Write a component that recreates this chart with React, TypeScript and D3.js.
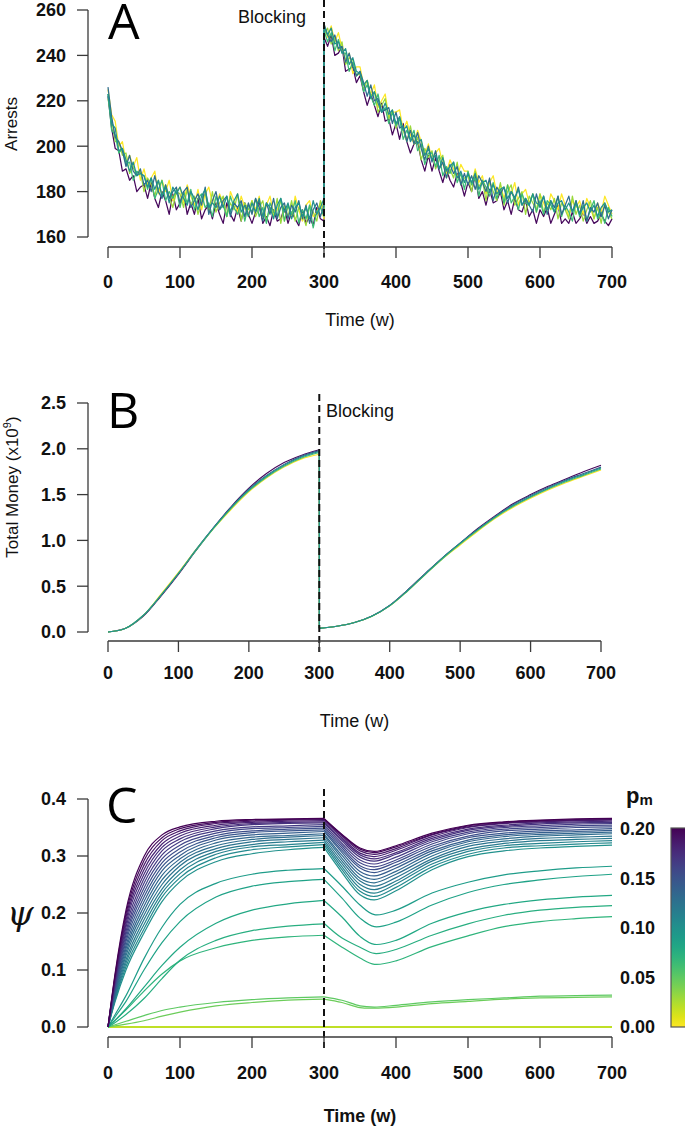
import React from "react";
import * as d3 from "d3";

const W = 685;
const H = 1127;

// ---------- Panel A : arrests (sampled every 5 w, blocking at 300) ----------
const weeksA = [...d3.range(0, 301, 5), ...d3.range(300, 701, 5)];

const arrestsPurple = [
  222,208,199,198,189,190,185,187,180,182,
  183,177,184,177,173,180,176,170,179,172,
  175,180,170,175,170,177,168,172,174,168,
  175,170,166,175,170,167,173,167,175,170,
  166,171,176,166,169,165,172,167,168,173,
  166,171,168,165,172,166,169,165,173,168,
  167,
  248,244,249,240,241,244,233,234,235,228,
  231,224,218,223,218,213,219,211,212,205,
  210,203,210,202,197,201,202,194,189,196,
  189,195,189,184,190,185,182,188,184,178,
  184,180,187,177,180,174,181,175,176,180,
  172,176,170,177,172,171,176,169,172,166,
  172,169,173,166,170,174,166,168,166,171,
  166,168,171,166,169,166,167,170,167,165,
  168,
];
const arrestsYellow = [
  225,214,211,200,202,193,196,191,195,185,
  190,183,186,189,179,185,180,185,176,180,
  182,175,183,178,174,181,172,179,182,175,
  173,179,175,169,180,176,171,178,173,169,
  176,172,178,168,174,178,170,172,176,167,
  174,169,178,172,167,174,176,169,171,175,
  168,
  254,248,253,246,250,243,238,241,232,235,
  235,227,229,223,227,217,220,223,213,215,
  215,216,207,211,205,201,207,202,196,201,
  194,197,199,192,188,194,190,186,192,189,
  189,183,190,184,187,179,184,187,179,183,
  177,183,179,184,174,179,181,175,179,171,
  179,175,171,179,176,172,179,174,169,176,
  173,176,170,177,173,168,175,171,178,174,
  170,
];
const arrestsLightGreen = [
  221,212,202,202,196,197,188,191,187,189,
  180,186,183,178,185,178,183,178,173,180,
  179,173,181,174,178,170,176,179,171,180,
  171,175,178,169,175,172,179,167,175,172,
  176,169,173,176,167,173,169,177,166,174,
  169,176,167,173,170,165,174,171,167,176,
  172,
  249,252,245,248,242,246,236,239,238,231,
  232,225,229,222,224,215,218,221,212,216,
  208,213,207,202,209,201,204,194,199,195,
  198,190,194,196,186,190,186,193,183,186,
  187,180,189,182,185,176,185,180,176,184,
  174,180,183,174,177,180,170,178,175,172,
  179,171,175,172,177,168,175,172,168,178,
  170,174,167,172,176,168,173,166,175,171,
  168,
];
const arrestsGreen = [
  223,207,205,197,199,192,193,185,189,188,
  187,181,186,177,181,185,176,180,177,181,
  173,180,175,181,172,177,179,173,175,169,
  178,172,174,169,178,173,170,175,167,174,
  171,177,169,173,166,175,171,169,177,167,
  174,170,176,166,172,168,174,164,171,173,
  169,
  251,246,250,242,247,241,241,233,237,231,
  233,224,227,222,218,223,215,217,210,215,
  209,212,203,207,203,207,198,201,192,197,
  197,191,196,187,191,188,193,184,188,181,
  189,183,186,178,185,182,178,184,177,181,
  175,183,175,178,172,179,175,174,179,171,
  176,170,176,174,171,178,169,174,171,167,
  176,169,174,167,172,176,168,171,166,173,
  169,
];
const arrestsBlue = [
  226,213,204,202,198,191,196,189,187,190,
  183,185,180,187,180,177,183,177,180,182,
  175,180,182,173,176,179,174,182,170,176,
  180,172,176,178,169,175,173,176,169,175,
  170,177,173,167,175,170,177,168,173,175,
  168,174,171,176,168,174,166,172,175,169,
  174,
  254,249,246,249,243,244,237,241,235,231,
  233,228,222,227,220,221,215,216,217,210,
  215,208,209,202,207,201,206,199,194,200,
  193,198,190,193,186,192,188,191,183,188,
  183,187,181,187,184,180,186,176,182,179,
  182,175,180,177,182,174,177,174,171,179,
  173,178,170,176,173,178,170,174,178,171,
  176,170,176,167,173,171,175,169,174,168,
  172,
];
const arrestsTeal = [
  223,210,208,198,199,194,189,193,187,188,
  187,182,186,181,185,178,182,175,182,179,
  182,177,174,180,177,172,178,181,173,175,
  173,178,173,178,171,176,179,171,174,169,
  175,171,177,169,175,173,168,174,177,171,
  175,168,173,175,169,173,168,176,170,173,
  177,
  253,249,252,245,246,241,243,236,239,233,
  232,227,229,221,224,219,215,219,214,216,
  210,213,207,209,202,205,201,203,196,199,
  194,196,190,195,189,191,193,186,189,184,
  188,184,188,181,184,185,180,183,179,181,
  182,177,180,177,181,174,177,174,179,175,
  174,178,172,176,171,175,176,172,175,171,
  175,170,173,175,171,174,169,173,175,171,
  172,
];
// viridis position of each replicate colour, in drawing order
const arrestColors = [0.02, 1.0, 0.85, 0.68, 0.35, 0.5];
const arrestValues = [arrestsPurple, arrestsYellow, arrestsLightGreen, arrestsGreen, arrestsBlue, arrestsTeal];

// ---------- Panel B : total money (x10^9) ----------
const weeksBPre = [0, 25, 50, 75, 100, 125, 150, 175, 200, 225, 250, 275, 300];
const weeksBPost = [300, 325, 350, 375, 400, 425, 450, 475, 500, 525, 550, 575, 600, 625, 650, 675, 700];
const moneyPre = [
  [0, 0.04, 0.17, 0.39, 0.63, 0.89, 1.14, 1.37, 1.57, 1.73, 1.85, 1.93, 1.99],
  [0, 0.04, 0.18, 0.40, 0.64, 0.90, 1.14, 1.36, 1.56, 1.71, 1.83, 1.92, 1.98],
  [0, 0.04, 0.18, 0.41, 0.65, 0.90, 1.13, 1.34, 1.53, 1.68, 1.80, 1.89, 1.94],
  [0, 0.04, 0.18, 0.40, 0.64, 0.89, 1.13, 1.35, 1.54, 1.69, 1.81, 1.90, 1.96],
  [0, 0.04, 0.18, 0.40, 0.64, 0.90, 1.14, 1.36, 1.55, 1.70, 1.82, 1.91, 1.97],
];
const moneyPost = [
  [0.04, 0.062, 0.103, 0.175, 0.29, 0.455, 0.635, 0.81, 0.97, 1.13, 1.27, 1.40, 1.50, 1.59, 1.67, 1.75, 1.82],
  [0.04, 0.062, 0.103, 0.175, 0.29, 0.455, 0.635, 0.81, 0.97, 1.12, 1.26, 1.39, 1.49, 1.58, 1.66, 1.73, 1.80],
  [0.04, 0.062, 0.103, 0.173, 0.285, 0.445, 0.625, 0.80, 0.95, 1.10, 1.24, 1.36, 1.46, 1.55, 1.63, 1.70, 1.77],
  [0.04, 0.062, 0.103, 0.173, 0.285, 0.445, 0.625, 0.80, 0.96, 1.11, 1.25, 1.37, 1.47, 1.56, 1.64, 1.71, 1.78],
  [0.04, 0.062, 0.103, 0.175, 0.29, 0.45, 0.63, 0.81, 0.97, 1.12, 1.26, 1.38, 1.48, 1.57, 1.65, 1.72, 1.79],
];
const moneyColors = [0.02, 0.3, 1.0, 0.7, 0.5];

// ---------- Panel C : psi vs time for a range of p_m ----------
const weeksCPre = [0, 10, 25, 50, 75, 100, 150, 200, 250, 300];
const weeksCPost = [300, 325, 350, 370, 400, 450, 500, 550, 600, 650, 700];
const pmValues = [
  0.2, 0.194, 0.188, 0.182, 0.176, 0.171, 0.165, 0.159, 0.153, 0.147, 0.141, 0.135, 0.129, 0.124, 0.118, 0.112, 0.106, 0.1,
  0.09, 0.085, 0.08, 0.075, 0.07,
  0.05, 0.045,
  0.04, 0.035, 0.03, 0.025, 0.02, 0.015, 0.01, 0.005, 0.0,
];
const psiZeroPre = [0, 0, 0, 0, 0, 0, 0, 0, 0, 0];
const psiZeroPost = [0, 0, 0, 0, 0, 0, 0, 0, 0, 0, 0];
const psiPre = [
  [0, 0.095, 0.205, 0.299, 0.337, 0.351, 0.361, 0.364, 0.365, 0.366],
  [0, 0.092, 0.199, 0.292, 0.332, 0.348, 0.359, 0.363, 0.364, 0.365],
  [0, 0.089, 0.193, 0.284, 0.327, 0.344, 0.357, 0.361, 0.363, 0.364],
  [0, 0.086, 0.187, 0.276, 0.321, 0.340, 0.354, 0.359, 0.361, 0.362],
  [0, 0.083, 0.181, 0.268, 0.315, 0.335, 0.351, 0.357, 0.359, 0.360],
  [0, 0.080, 0.175, 0.260, 0.309, 0.330, 0.348, 0.355, 0.357, 0.358],
  [0, 0.077, 0.168, 0.252, 0.302, 0.325, 0.344, 0.351, 0.353, 0.355],
  [0, 0.074, 0.162, 0.244, 0.295, 0.319, 0.340, 0.348, 0.350, 0.352],
  [0, 0.071, 0.156, 0.236, 0.288, 0.313, 0.336, 0.344, 0.347, 0.349],
  [0, 0.068, 0.150, 0.228, 0.281, 0.307, 0.332, 0.341, 0.344, 0.346],
  [0, 0.065, 0.143, 0.220, 0.274, 0.301, 0.328, 0.337, 0.340, 0.343],
  [0, 0.062, 0.137, 0.212, 0.266, 0.295, 0.323, 0.333, 0.336, 0.339],
  [0, 0.059, 0.131, 0.204, 0.258, 0.289, 0.318, 0.329, 0.333, 0.336],
  [0, 0.056, 0.125, 0.196, 0.250, 0.283, 0.313, 0.325, 0.329, 0.332],
  [0, 0.053, 0.118, 0.188, 0.242, 0.276, 0.308, 0.320, 0.325, 0.328],
  [0, 0.050, 0.112, 0.180, 0.235, 0.269, 0.303, 0.316, 0.320, 0.324],
  [0, 0.048, 0.106, 0.172, 0.228, 0.262, 0.297, 0.311, 0.316, 0.320],
  [0, 0.045, 0.100, 0.165, 0.220, 0.255, 0.290, 0.304, 0.311, 0.315],
  [0, 0.022, 0.055, 0.120, 0.175, 0.215, 0.252, 0.268, 0.275, 0.278],
  [0, 0.018, 0.045, 0.100, 0.148, 0.185, 0.228, 0.247, 0.255, 0.259],
  [0, 0.012, 0.032, 0.070, 0.108, 0.140, 0.182, 0.205, 0.216, 0.222],
  [0, 0.008, 0.022, 0.050, 0.085, 0.117, 0.152, 0.169, 0.177, 0.181],
  [0, 0.012, 0.030, 0.063, 0.093, 0.116, 0.139, 0.152, 0.158, 0.161],
  [0, 0.004, 0.010, 0.020, 0.029, 0.035, 0.043, 0.048, 0.051, 0.053],
  [0, 0.002, 0.005, 0.011, 0.019, 0.026, 0.037, 0.043, 0.047, 0.049],
];
const psiPost = [
  [0.366, 0.338, 0.314, 0.308, 0.318, 0.340, 0.354, 0.360, 0.363, 0.365, 0.366],
  [0.365, 0.337, 0.312, 0.306, 0.316, 0.338, 0.353, 0.359, 0.362, 0.364, 0.365],
  [0.364, 0.335, 0.309, 0.303, 0.313, 0.337, 0.351, 0.358, 0.361, 0.363, 0.364],
  [0.362, 0.332, 0.305, 0.299, 0.310, 0.334, 0.350, 0.357, 0.360, 0.362, 0.363],
  [0.360, 0.329, 0.302, 0.295, 0.306, 0.331, 0.347, 0.354, 0.358, 0.360, 0.361],
  [0.358, 0.326, 0.298, 0.291, 0.303, 0.328, 0.345, 0.352, 0.356, 0.358, 0.359],
  [0.355, 0.322, 0.293, 0.286, 0.298, 0.325, 0.342, 0.350, 0.353, 0.356, 0.357],
  [0.352, 0.318, 0.288, 0.281, 0.293, 0.321, 0.339, 0.347, 0.350, 0.353, 0.354],
  [0.349, 0.314, 0.283, 0.276, 0.289, 0.317, 0.335, 0.344, 0.347, 0.350, 0.351],
  [0.346, 0.310, 0.279, 0.271, 0.284, 0.313, 0.332, 0.340, 0.344, 0.346, 0.348],
  [0.343, 0.306, 0.273, 0.265, 0.279, 0.309, 0.328, 0.337, 0.341, 0.343, 0.345],
  [0.339, 0.301, 0.267, 0.259, 0.273, 0.305, 0.325, 0.334, 0.338, 0.340, 0.342],
  [0.336, 0.296, 0.261, 0.253, 0.268, 0.300, 0.321, 0.330, 0.335, 0.337, 0.339],
  [0.332, 0.291, 0.256, 0.247, 0.262, 0.295, 0.317, 0.326, 0.331, 0.333, 0.335],
  [0.328, 0.286, 0.250, 0.241, 0.256, 0.291, 0.312, 0.322, 0.327, 0.329, 0.331],
  [0.324, 0.281, 0.244, 0.235, 0.251, 0.286, 0.308, 0.318, 0.322, 0.325, 0.327],
  [0.320, 0.276, 0.238, 0.229, 0.245, 0.281, 0.303, 0.314, 0.318, 0.321, 0.323],
  [0.315, 0.271, 0.232, 0.223, 0.239, 0.276, 0.299, 0.309, 0.314, 0.317, 0.319],
  [0.278, 0.247, 0.214, 0.197, 0.205, 0.235, 0.254, 0.267, 0.274, 0.279, 0.282],
  [0.259, 0.226, 0.191, 0.176, 0.184, 0.214, 0.236, 0.250, 0.258, 0.264, 0.268],
  [0.222, 0.193, 0.159, 0.145, 0.152, 0.182, 0.202, 0.215, 0.223, 0.228, 0.231],
  [0.182, 0.156, 0.140, 0.129, 0.136, 0.161, 0.181, 0.196, 0.205, 0.210, 0.213],
  [0.161, 0.140, 0.121, 0.110, 0.116, 0.141, 0.160, 0.176, 0.185, 0.190, 0.1935],
  [0.053, 0.047, 0.037, 0.035, 0.038, 0.044, 0.048, 0.051, 0.054, 0.055, 0.056],
  [0.049, 0.043, 0.034, 0.033, 0.035, 0.041, 0.045, 0.049, 0.051, 0.052, 0.053],
];

const ticksTime = [0, 100, 200, 300, 400, 500, 600, 700];
const ticksArrests = [160, 180, 200, 220, 240, 260];
const ticksMoney = [0, 0.5, 1.0, 1.5, 2.0, 2.5];
const ticksPsi = [0, 0.1, 0.2, 0.3, 0.4];
const ticksPm = [0, 0.05, 0.1, 0.15, 0.2];

const SANS = "'Liberation Sans', Arial, Helvetica, sans-serif";
const LETTER = "'Open Sans', 'Noto Sans', sans-serif";
const AXIS = "#3a3a3a";

function YAxis({ scale, ticks, x, fmt }: any) {
  const r = ticks.map((t: number) => scale(t));
  return (
    <g>
      <line x1={x} x2={x} y1={Math.min(...r)} y2={Math.max(...r)} stroke={AXIS} strokeWidth={1.3} />
      {ticks.map((t: number) => (
        <g key={t}>
          <line x1={x - 11} x2={x} y1={scale(t)} y2={scale(t)} stroke={AXIS} strokeWidth={1.3} />
          <text x={x - 22} y={scale(t)} dy="0.36em" textAnchor="end" fontFamily={SANS} fontWeight="bold" fontSize={18} fill="#111">
            {fmt(t)}
          </text>
        </g>
      ))}
    </g>
  );
}

function XAxis({ scale, ticks, y, labelY }: any) {
  return (
    <g>
      <line x1={scale(ticks[0])} x2={scale(ticks[ticks.length - 1])} y1={y} y2={y} stroke={AXIS} strokeWidth={1.3} />
      {ticks.map((t: number) => (
        <g key={t}>
          <line x1={scale(t)} x2={scale(t)} y1={y} y2={y + 11} stroke={AXIS} strokeWidth={1.3} />
          <text x={scale(t)} y={labelY} textAnchor="middle" fontFamily={SANS} fontWeight="bold" fontSize={18} fill="#111">
            {t}
          </text>
        </g>
      ))}
    </g>
  );
}

export default function App() {
  const xA = d3.scaleLinear().domain([0, 700]).range([108, 612]);
  const yA = d3.scaleLinear().domain([160, 260]).range([237, 10]);
  const xB = d3.scaleLinear().domain([0, 700]).range([108, 601]);
  const yB = d3.scaleLinear().domain([0, 2.5]).range([632, 403]);
  const xC = d3.scaleLinear().domain([0, 700]).range([108, 612]);
  const yC = d3.scaleLinear().domain([0, 0.4]).range([1027, 799]);
  const pmY = d3.scaleLinear().domain([0, 0.2]).range([1027, 829]);
  const pmColor = (pm: number) => d3.interpolateViridis(1 - pm / 0.2);

  const lineA = d3
    .line<number>()
    .x((_, i) => xA(weeksA[i]))
    .y((d) => yA(d));

  const smooth = d3.curveCatmullRom.alpha(0.5);
  const lineBPre = d3
    .line<number>()
    .x((_, i) => xB(weeksBPre[i]))
    .y((d) => yB(d))
    .curve(smooth);
  const lineBPost = d3
    .line<number>()
    .x((_, i) => xB(weeksBPost[i]))
    .y((d) => yB(d))
    .curve(smooth);

  const lineCPre = d3
    .line<number>()
    .x((_, i) => xC(weeksCPre[i]))
    .y((d) => yC(d))
    .curve(d3.curveMonotoneX);
  const lineCPost = d3
    .line<number>()
    .x((_, i) => xC(weeksCPost[i]))
    .y((d) => yC(d))
    .curve(smooth);

  const psiLines = pmValues.map((pm, i) => ({
    pm,
    pre: psiPre[i] ?? psiZeroPre,
    post: psiPost[i] ?? psiZeroPost,
    zero: i >= psiPre.length,
  }));
  // zero curves first (a yellow-green one ends on top), then rising p_m so purple sits on top
  const zeroLines = psiLines.filter((l) => l.zero).sort((a, b) => Math.abs(b.pm - 0.02) - Math.abs(a.pm - 0.02));
  const activeLines = psiLines.filter((l) => !l.zero).sort((a, b) => a.pm - b.pm);
  const psiDraw = [...zeroLines, ...activeLines];

  const gradStops = d3.range(0, 1.0001, 0.05);

  return (
    <div style={{ position: "absolute", left: 0, top: 0 }}>
      <svg width={W} height={H} viewBox={`0 0 ${W} ${H}`} style={{ display: "block", background: "#fff" }}>
        <defs>
          <linearGradient id="viridisBar" x1="0" y1="1" x2="0" y2="0">
            {gradStops.map((o) => (
              <stop key={o} offset={o} stopColor={d3.interpolateViridis(1 - o)} />
            ))}
          </linearGradient>
        </defs>

        {/* ---------------- Panel A ---------------- */}
        <g>
          {arrestValues.map((vals, i) => (
            <path key={i} d={lineA(vals) || ""} fill="none" stroke={d3.interpolateViridis(arrestColors[i])} strokeWidth={1.25} strokeLinejoin="round" />
          ))}
          <line x1={xA(300)} x2={xA(300)} y1={0} y2={257} stroke="#111" strokeWidth={2} strokeDasharray="7,4" />
          <YAxis scale={yA} ticks={ticksArrests} x={88} fmt={(t: number) => `${t}`} />
          <XAxis scale={xA} ticks={ticksTime} y={247} labelY={288} />
          <text x={108} y={39} fontFamily={LETTER} fontSize={50} fill="#000">A</text>
          <text x={238} y={23} fontFamily={SANS} fontSize={18} fill="#111">Blocking</text>
          <text x={xA(350)} y={326} textAnchor="middle" fontFamily={SANS} fontSize={18} fill="#111">Time (w)</text>
          <text transform="translate(17,124) rotate(-90)" textAnchor="middle" fontFamily={SANS} fontSize={17} fill="#111">Arrests</text>
        </g>

        {/* ---------------- Panel B ---------------- */}
        <g>
          {moneyPre.map((vals, i) => {
            const post = moneyPost[i];
            return (
              <g key={i} stroke={d3.interpolateViridis(moneyColors[i])} fill="none" strokeWidth={1.1}>
                <path d={lineBPre(vals) || ""} />
                <line x1={xB(300)} x2={xB(300)} y1={yB(vals[vals.length - 1])} y2={yB(post[0])} />
                <path d={lineBPost(post) || ""} />
              </g>
            );
          })}
          <line x1={xB(300)} x2={xB(300)} y1={394} y2={652} stroke="#111" strokeWidth={2} strokeDasharray="7,4" />
          <YAxis scale={yB} ticks={ticksMoney} x={88} fmt={(t: number) => d3.format(".1f")(t)} />
          <XAxis scale={xB} ticks={ticksTime} y={641} labelY={679} />
          <text x={107} y={428} fontFamily={LETTER} fontSize={50} fill="#000">B</text>
          <text x={326} y={417} fontFamily={SANS} fontSize={18} fill="#111">Blocking</text>
          <text x={xB(350)} y={727} textAnchor="middle" fontFamily={SANS} fontSize={18} fill="#111">Time (w)</text>
          <text transform="translate(18,487) rotate(-90)" textAnchor="middle" fontFamily={SANS} fontSize={17} fill="#111">
            Total Money (x10<tspan dy={-7} fontSize={11}>9</tspan><tspan dy={7}>)</tspan>
          </text>
        </g>

        {/* ---------------- Panel C ---------------- */}
        <g>
          {psiDraw.map((l, i) => (
            <g key={i} stroke={pmColor(l.pm)} fill="none" strokeWidth={1.2}>
              <path d={lineCPre(l.pre) || ""} />
              <path d={lineCPost(l.post) || ""} />
            </g>
          ))}
          <line x1={xC(300)} x2={xC(300)} y1={789} y2={1048} stroke="#111" strokeWidth={2} strokeDasharray="7,4" />
          <YAxis scale={yC} ticks={ticksPsi} x={88} fmt={(t: number) => d3.format(".1f")(t)} />
          <XAxis scale={xC} ticks={ticksTime} y={1037} labelY={1079} />
          <text x={106} y={823} fontFamily={LETTER} fontSize={50} fill="#000">C</text>
          <text x={xC(350)} y={1122} textAnchor="middle" fontFamily={SANS} fontWeight="bold" fontSize={18} fill="#111">Time (w)</text>
          <text x={7} y={925} fontFamily="'DejaVu Serif', 'Liberation Serif', serif" fontStyle="italic" fontSize={34} fill="#111">ψ</text>

          {/* colour bar */}
          <rect x={671} y={pmY(0.2) - 1} width={22} height={pmY(0) - pmY(0.2) + 1} fill="url(#viridisBar)" stroke="#555" strokeWidth={1.2} />
          {ticksPm.map((t) => (
            <text key={t} x={620} y={pmY(t)} dy="0.36em" fontFamily={SANS} fontWeight="bold" fontSize={18} fill="#111">
              {d3.format(".2f")(t)}
            </text>
          ))}
          <text x={626} y={803} fontFamily={SANS} fontWeight="bold" fontSize={22} fill="#111">
            p<tspan fontSize={15} dy={2}>m</tspan>
          </text>
        </g>
      </svg>
    </div>
  );
}
